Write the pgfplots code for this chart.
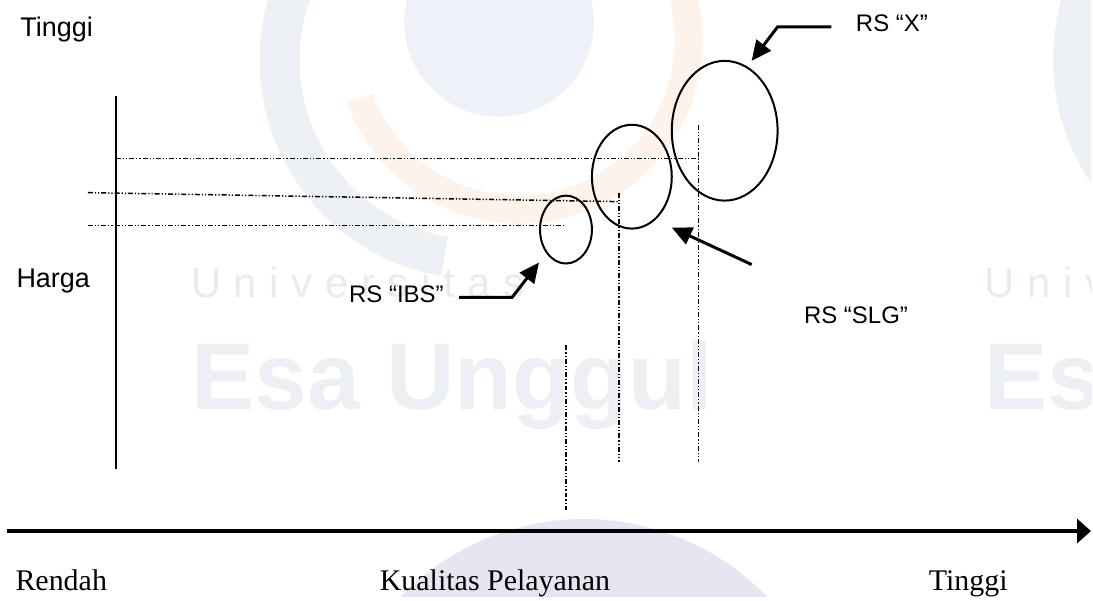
\documentclass[border=0pt]{standalone}
\usepackage{pgfplots}
\pgfplotsset{compat=1.18}
\usepackage{fontspec}
\setmainfont{Liberation Serif}
\setsansfont{Liberation Sans}
\usetikzlibrary{arrows.meta}
\definecolor{wmblue}{HTML}{EEF2F8}
\definecolor{wmcres}{HTML}{EDF1F6}
\definecolor{wmorange}{HTML}{FEF3EA}
\definecolor{wmtext}{HTML}{ECF0F5}
\definecolor{wmuni}{HTML}{E9ECEF}
\definecolor{wmlav}{HTML}{E6E6F2}
\tikzset{dd/.style={line width=1.5pt, dash pattern=on 5pt off 2pt on 1.2pt off 2pt on 1.2pt off 2pt}}
\begin{document}
\begin{tikzpicture}
\begin{axis}[scale only axis, width=1093pt, height=598pt,
  xmin=0, xmax=1093, ymin=0, ymax=598, y dir=reverse,
  hide axis, clip=false]
% ---- faint watermark ----
\begin{scope}
\clip (axis cs:0,0) rectangle (axis cs:1093,598);
\fill[wmlav] (axis cs:585,775) circle [radius=255pt];
\fill[wmblue] (axis cs:500,22) circle [radius=95pt];
\draw[wmcres, line width=40pt] (axis cs:292.1,-8.4) arc[start angle=160, end angle=260, radius=200pt];
\draw[wmorange, line width=28pt] (axis cs:360.3,98.1) arc[start angle=-160, end angle=30, radius=170pt];
\node[anchor=base west, text=wmuni, font=\sffamily\fontsize{42}{46}\selectfont\addfontfeatures{LetterSpace=30}] at (axis cs:188,298) {Universitas};
\node[anchor=base west, text=wmtext, font=\sffamily\bfseries\fontsize{95}{100}\selectfont] at (axis cs:188,410) {Esa Unggul};
% repeated copy at right
\fill[wmblue] (axis cs:1295,22) circle [radius=95pt];
\draw[wmcres, line width=40pt] (axis cs:1087.1,-8.4) arc[start angle=160, end angle=260, radius=200pt];
\node[anchor=base west, text=wmuni, font=\sffamily\fontsize{42}{46}\selectfont\addfontfeatures{LetterSpace=30}] at (axis cs:983,298) {Universitas};
\node[anchor=base west, text=wmtext, font=\sffamily\bfseries\fontsize{95}{100}\selectfont] at (axis cs:983,410) {Esa Unggul};
\end{scope}
% ---- axes of the diagram ----
\addplot[line width=2.5pt, no markers] coordinates {(116,96) (116,470)};
\addplot[line width=4pt, no markers, -{Triangle[length=14pt,width=24pt]}] coordinates {(7,532) (1093,532)};
% ---- dash-dot guide lines ----
\addplot[dd, no markers] coordinates {(116,159) (700,159)};
\addplot[dd, no markers] coordinates {(88,193) (620,202)};
\addplot[dd, no markers] coordinates {(88,226) (567,226)};
\addplot[dd, no markers] coordinates {(700,125) (700,463)};
\addplot[dd, no markers] coordinates {(620,193) (620,463)};
\addplot[dd, no markers] coordinates {(567,346) (567,511)};
% ---- ellipses ----
\draw[line width=2pt] (axis cs:567,230) ellipse [x radius=26pt, y radius=34pt];
\draw[line width=2pt] (axis cs:633,177) ellipse [x radius=40pt, y radius=52pt];
\draw[line width=2pt] (axis cs:726,131) ellipse [x radius=53pt, y radius=70pt];
% ---- pointer arrows ----
\addplot[line width=3pt, no markers, -{Triangle[length=20pt,width=18pt]}] coordinates {(833,27) (779,27) (753,61)};
\addplot[line width=3pt, no markers, -{Triangle[length=20pt,width=18pt]}] coordinates {(460,298) (513,298) (540,263)};
\addplot[line width=3pt, no markers, -{Triangle[length=20pt,width=18pt]}] coordinates {(753,265) (673,228)};
% ---- labels ----
\node[anchor=base west, font=\sffamily\fontsize{27}{32}\selectfont] at (axis cs:17,37) {Tinggi};
\node[anchor=base west, font=\sffamily\fontsize{27}{32}\selectfont] at (axis cs:13,288) {Harga};
\node[anchor=base east, font=\sffamily\fontsize{24}{28}\selectfont] at (axis cs:448,303) {RS “IBS”};
\node[anchor=base west, font=\sffamily\fontsize{24}{28}\selectfont] at (axis cs:802,324) {RS “SLG”};
\node[anchor=base west, font=\sffamily\fontsize{24}{28}\selectfont] at (axis cs:854,32) {RS “X”};
\node[anchor=base west, font=\rmfamily\fontsize{30}{34}\selectfont] at (axis cs:12,592) {Rendah};
\node[anchor=base west, font=\rmfamily\fontsize{30}{34}\selectfont] at (axis cs:377,592) {Kualitas Pelayanan};
\node[anchor=base west, font=\rmfamily\fontsize{30}{34}\selectfont] at (axis cs:927,592) {Tinggi};
\end{axis}
\end{tikzpicture}
\end{document}
